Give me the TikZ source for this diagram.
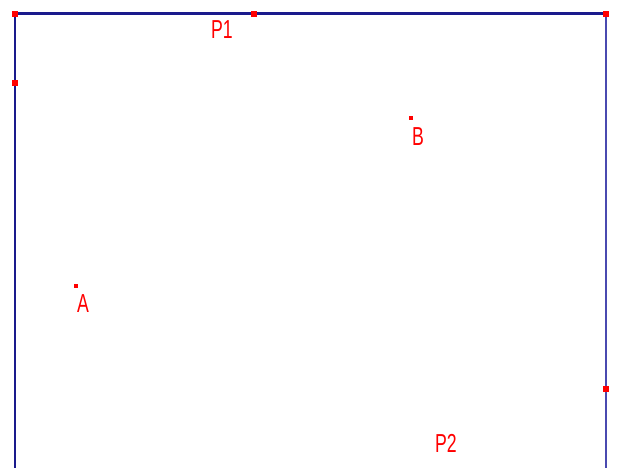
\documentclass[tikz,border=0pt]{standalone}
\usepackage{fontspec}
\setmainfont{Liberation Sans}
\definecolor{navy}{HTML}{1A1A8C}
\definecolor{lightnavy}{HTML}{4A4AB0}
\definecolor{ptred}{HTML}{FF0000}
\tikzset{
  pt/.style={fill=ptred, inner sep=0pt, minimum size=5.5pt, draw=none},
  smallpt/.style={fill=ptred, inner sep=0pt, minimum size=4.5pt, draw=none},
  lbl/.style={text=ptred, inner sep=0pt, font=\fontsize{26}{26}\selectfont},
  edge/.style={draw=navy, line width=3pt},
  sideedge/.style={draw=navy, line width=2.2pt},
  thinedge/.style={draw=lightnavy, line width=2.2pt}
}
\newcommand{\narrow}[1]{\scalebox{0.68}[1]{#1}}
\begin{document}
\begin{tikzpicture}[x=1pt,y=-1pt]
\useasboundingbox[fill=white] (0,0) rectangle (619,468);
\coordinate (bl) at (15,468);
\coordinate (br) at (606,468);
\node[pt] (tl) at (15,14) {};
\node[pt] (tr) at (606,14) {};
\node[pt] (tm) at (254,14) {};
\node[pt] (lm) at (15,83) {};
\node[pt] (rm) at (606,389) {};
\node[smallpt] (pa) at (76,286) {};
\node[smallpt] (pb) at (411,118) {};
\draw[sideedge] (tl.center) -- (bl);
\draw[thinedge] (tr.center) -- (br);
\draw[edge] (tl.center) -- (tr.center);
\node[pt] at (tl) {};
\node[pt] at (tr) {};
\node[pt] at (tm) {};
\node[pt] at (lm) {};
\node[pt] at (rm) {};
\node[lbl] (l1) at (222,30) {\narrow{P1}};
\node[lbl] (lb) at (418,137) {\narrow{B}};
\node[lbl] (la) at (83,304) {\narrow{A}};
\node[lbl] (l2) at (446,443) {\narrow{P2}};
\end{tikzpicture}
\end{document}
